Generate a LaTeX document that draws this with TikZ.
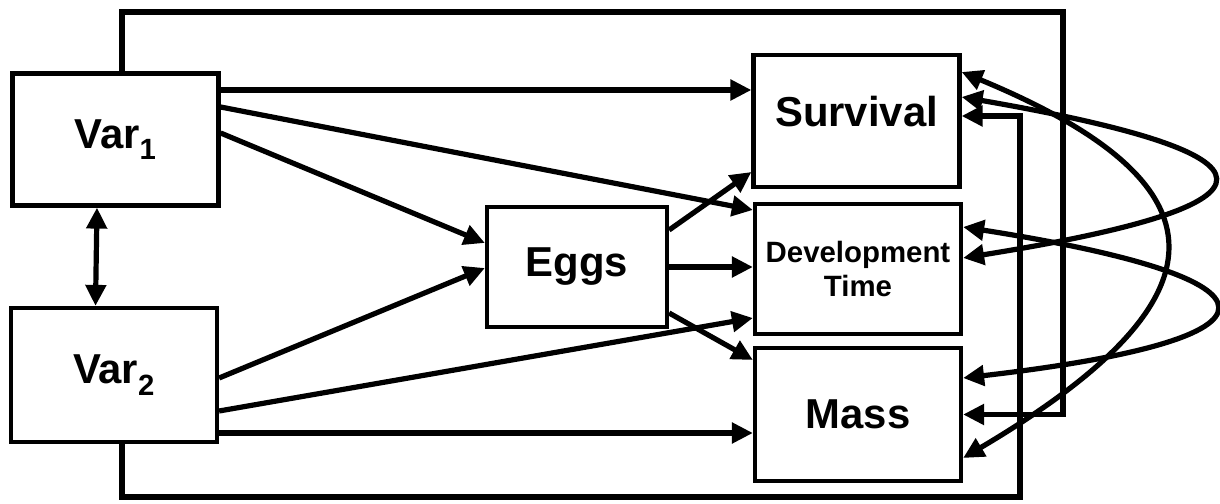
\documentclass[tikz,border=0pt]{standalone}
\usepackage{fontspec}
\setmainfont{Liberation Sans}
\usetikzlibrary{arrows.meta}
\begin{document}
\begin{tikzpicture}[>={Triangle[length=21bp,width=20bp]},line join=miter,
  box/.style={draw,line width=4.2bp,inner sep=0pt,minimum width=206bp,minimum height=132bp,
    font=\fontsize{42}{48}\selectfont\bfseries},
  link/.style={line width=5.2bp}]
\useasboundingbox (0bp,0bp) rectangle (1220bp,504bp);
%%
  % Node: var1
  \node[box] (var1) at (115.5bp,364.5bp) {Var\textsubscript{1}};
  % Node: var2
  \node[box,minimum height=134bp] (var2) at (114bp,129bp) {Var\textsubscript{2}};
  % Node: eggs
  \node[box,minimum width=180bp,minimum height=120bp] (eggs) at (577bp,237bp) {Eggs};
  % Node: survival
  \node[box,text depth=20bp] (survival) at (856.5bp,383bp) {Survival};
  % Node: devtime
  \node[box,minimum height=130bp,align=center,font=\fontsize{29.5}{35}\selectfont\bfseries] (devtime) at (858bp,235bp) {Development\\Time};
  % Node: mass
  \node[box,minimum height=133bp] (mass) at (858bp,89.5bp) {Mass};
  \coordinate (ne) at (1063bp,492bp);
  \coordinate (se) at (1020bp,7bp);
%
  % Edge: var1 -> survival
  \draw [link,->] ([yshift=49.5bp]var1.east) -- ([yshift=31bp]survival.west);
  % Edge: var1 -> devtime
  \draw [link,->] ([yshift=32.5bp]var1.east) -- ([yshift=59bp]devtime.west);
  % Edge: var1 -> eggs
  \draw [link,->] ([yshift=6.5bp]var1.east) -- ([yshift=24bp]eggs.west);
  % Edge: var2 -> eggs
  \draw [link,->] ([yshift=-3bp]var2.east) -- ([yshift=-1bp]eggs.west);
  % Edge: var2 -> devtime
  \draw [link,->] ([yshift=-36bp]var2.east) -- ([yshift=-49bp]devtime.west);
  % Edge: var2 -> mass
  \draw [link,->] ([yshift=-58bp]var2.east) -- ([yshift=-18.5bp]mass.west);
  % Edge: eggs -> survival
  \draw [link,->] ([yshift=37bp]eggs.east) -- ([yshift=-51bp]survival.west);
  % Edge: eggs -> devtime
  \draw [link,->] (eggs.east) -- (eggs.east -| devtime.west);
  % Edge: eggs -> mass
  \draw [link,->] ([yshift=-46bp]eggs.east) -- ([yshift=54.5bp]mass.west);
  % Edge: var1 <-> var2
  \draw [link,<->] ([xshift=-18.5bp]var1.south) -- ([xshift=-18.5bp]var2.north);
  % Edge: var1 -> mass (round the top)
  \draw [link,->] ([xshift=6.5bp]var1.north) -- ([xshift=6.5bp]var1.north |- ne) -- (ne)
    -- (ne |- mass.east) -- (mass.east);
  % Edge: var2 -> survival (round the bottom)
  \draw [link,->] ([xshift=8bp]var2.south) -- ([xshift=8bp]var2.south |- se) -- (se)
    -- (se |- 0,388bp) -- ([yshift=5bp]survival.east);
  % Edge: survival <-> mass
  \draw [link,<->] ([yshift=49bp]survival.east) .. controls (1232bp,320bp) and (1232bp,205bp) .. ([yshift=-43.5bp]mass.east);
  % Edge: survival <-> devtime
  \draw [link,<->] ([yshift=24bp]survival.east) .. controls (1290bp,350bp) and (1300bp,300bp) .. ([yshift=11bp]devtime.east);
  % Edge: devtime <-> mass
  \draw [link,<->] ([yshift=42bp]devtime.east) .. controls (1295bp,225bp) and (1300bp,165bp) .. ([yshift=36.5bp]mass.east);
%
\end{tikzpicture}
\end{document}
